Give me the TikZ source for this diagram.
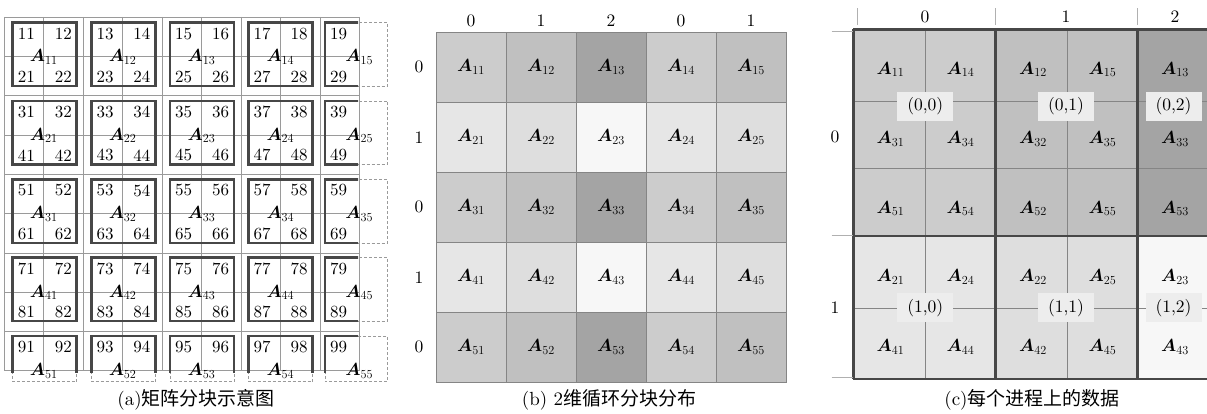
\RequirePackage{fix-cm}
\documentclass[tikz,border=0pt]{standalone}
\usepackage{amsmath}
\usepackage{bm}
\usepackage{fontspec}
\setmainfont{lmroman10-regular}[Extension=.otf, BoldFont=lmroman10-bold, ItalicFont=lmroman10-italic]
\newfontfamily\cjk{Noto Sans CJK SC}
\definecolor{c00}{HTML}{CCCCCC}
\definecolor{c01}{HTML}{C0C0C0}
\definecolor{c02}{HTML}{A4A4A4}
\definecolor{c10}{HTML}{E6E6E6}
\definecolor{c11}{HTML}{DEDEDE}
\definecolor{c12}{HTML}{F7F7F7}
\definecolor{thickgray}{HTML}{474747}
\definecolor{finegray}{HTML}{9A9A9A}
\definecolor{cellgray}{HTML}{858585}
\definecolor{labfill}{HTML}{EDEDED}
\definecolor{tickgray}{HTML}{B0B0B0}
\tikzset{
  fineline/.style={draw=finegray, line width=0.6pt},
  blockbox/.style={draw=thickgray, line width=2.5pt},
  dashbox/.style={draw=finegray, line width=0.6pt, dash pattern=on 3pt off 2pt},
  numtxt/.style={inner sep=3.5pt, font=\fontsize{17}{20}\selectfont},
  mattxt/.style={inner sep=1pt, font=\fontsize{17.5}{20}\selectfont},
  bcell/.style={rectangle, draw=cellgray, line width=0.6pt, minimum size=70pt, inner sep=0pt, font=\fontsize{17.5}{20}\selectfont},
  cline/.style={draw=cellgray, line width=0.6pt},
  proclab/.style={fill=labfill, minimum width=56pt, minimum height=29pt, inner sep=0pt, font=\fontsize{17.5}{20}\selectfont},
  axlab/.style={inner sep=0pt, font=\fontsize{17.5}{20}\selectfont},
  tickline/.style={draw=tickgray, line width=0.6pt},
  captxt/.style={inner sep=0pt, font=\fontsize{19}{22}\selectfont}
}
\begin{document}
\begin{tikzpicture}[x=1pt,y=-1pt]
\useasboundingbox (0,0) rectangle (1207,414);
\fill[white] (0,0) rectangle (1207,414);

% ================= panel (a) =================
\foreach \i in {0,...,9}{
  \draw[fineline] ({4.3+39.44*\i},17) -- ({4.3+39.44*\i},370.7);
  \draw[fineline] (4.3,{17+39.3*\i}) -- (359.3,{17+39.3*\i});
}
% dashed outer parts of the boundary blocks
\foreach \r in {1,...,5}{
  \foreach \c in {1,...,5}{
    \pgfmathsetmacro\L{ifthenelse(\c==5,325,12.7+78.6*(\c-1))}
    \pgfmathsetmacro\R{ifthenelse(\c==5,387.3,\L+64)}
    \pgfmathsetmacro\T{22.7+78.3*(\r-1)}
    \pgfmathsetmacro\B{ifthenelse(\r==5,381.7,\T+63.5)}
    \pgfmathtruncatemacro\edge{(\c==5)||(\r==5)}
    \ifnum\edge=1
      \draw[dashbox] (\L,\T) rectangle (\R,\B);
    \fi
  }
}
% thick block frames, clipped to the matrix
\begin{scope}
  \clip (0,0) rectangle (358,372);
  \foreach \r in {1,...,5}{
    \foreach \c in {1,...,5}{
      \pgfmathsetmacro\L{ifthenelse(\c==5,325,12.7+78.6*(\c-1))}
      \pgfmathsetmacro\R{ifthenelse(\c==5,387.3,\L+64)}
      \pgfmathsetmacro\T{22.7+78.3*(\r-1)}
      \pgfmathsetmacro\B{ifthenelse(\r==5,381.7,\T+63.5)}
      \draw[blockbox] (\L,\T) rectangle (\R,\B);
    }
  }
\end{scope}
% numbers and block names
\foreach \r in {1,...,5}{
  \foreach \c in {1,...,5}{
    \pgfmathsetmacro\L{ifthenelse(\c==5,325,12.7+78.6*(\c-1))}
    \pgfmathsetmacro\R{ifthenelse(\c==5,387.3,\L+64)}
    \pgfmathsetmacro\T{22.7+78.3*(\r-1)}
    \pgfmathsetmacro\B{ifthenelse(\r==5,381.7,\T+63.5)}
    \pgfmathtruncatemacro\tl{10*(2*\r-1)+2*\c-1}
    \pgfmathtruncatemacro\tr{\tl+1}
    \pgfmathtruncatemacro\bl{\tl+10}
    \pgfmathtruncatemacro\br{\tl+11}
    \node[numtxt, anchor=north west] (n\tl) at ({\L+1.5},{\T+1.5}) {\tl};
    \ifnum\c<5
      \node[numtxt, anchor=north east] (n\tr) at ({\R-1.2},{\T+1.5}) {\tr};
    \fi
    \ifnum\r<5
      \node[numtxt, anchor=south west] (n\bl) at ({\L+1.5},{\B+0.5}) {\bl};
      \ifnum\c<5
        \node[numtxt, anchor=south east] (n\br) at ({\R-1.2},{\B+0.5}) {\br};
      \fi
    \fi
    \node[mattxt] (a\r\c) at ({4.3+39.44*(2*\c-1)},{17.5+39.3*(2*\r-1)}) {$\bm{A}_{\r\c}$};
  }
}
\node[captxt] (capa) at (196,400) {(a)\cjk 矩阵分块示意图};

% ================= panel (b) =================
\foreach \i in {1,...,5}{
  \foreach \j in {1,...,5}{
    \pgfmathtruncatemacro\p{mod(\i-1,2)}
    \pgfmathtruncatemacro\q{mod(\j-1,3)}
    \node[bcell, fill=c\p\q] (b\i\j) at ({436+70*(\j-0.5)},{32.3+70*(\i-0.5)}) {$\bm{A}_{\i\j}$};
  }
}
\foreach \i in {1,...,5}{
  \pgfmathtruncatemacro\p{mod(\i-1,2)}
  \node[axlab] (br\i) at (419,{32.3+70*(\i-0.5)}) {\p};
}
\foreach \j in {1,...,5}{
  \pgfmathtruncatemacro\q{mod(\j-1,3)}
  \node[axlab] (bc\j) at ({436+70*(\j-0.5)},21) {\q};
}
\node[captxt] (capb) at (609,400) {(b) 2\cjk 维循环分块分布};

% ================= panel (c) =================
\fill[c00] (853.3,29.3) rectangle (995.7,236);
\fill[c01] (995.7,29.3) rectangle (1137.7,236);
\fill[c02] (1137.7,29.3) rectangle (1208,236);
\fill[c10] (853.3,236) rectangle (995.7,379);
\fill[c11] (995.7,236) rectangle (1137.7,379);
\fill[c12] (1137.7,236) rectangle (1208,379);
\draw[cline] (925.7,29.3) -- (925.7,379);
\draw[cline] (1067.3,29.3) -- (1067.3,379);
\draw[cline] (853.3,101) -- (1208,101);
\draw[cline] (853.3,168.3) -- (1208,168.3);
\draw[cline] (853.3,308.3) -- (1208,308.3);
\draw[blockbox] (853.3,29.3) -- (1208,29.3);
\draw[blockbox] (853.3,236) -- (1208,236);
\draw[blockbox] (853.3,379) -- (1208,379);
\draw[blockbox] (853.3,29.3) -- (853.3,379);
\draw[blockbox] (995.7,29.3) -- (995.7,379);
\draw[blockbox] (1137.7,29.3) -- (1137.7,379);
% block names
\foreach \rr/\yy in {1/69.5, 3/139, 5/208.5, 2/277, 4/347}{
  \foreach \cc/\xx in {1/890.5, 4/960.5, 2/1033, 5/1102.5, 3/1175}{
    \node[mattxt] (cA\rr\cc) at (\xx,\yy) {$\bm{A}_{\rr\cc}$};
  }
}
% process labels
\node[proclab] (p00) at (925.3,106.2) {(0,0)};
\node[proclab] (p01) at (1066,106.2) {(0,1)};
\node[proclab] (p02) at (1173.5,106.2) {(0,2)};
\node[proclab] (p10) at (925.3,307.8) {(1,0)};
\node[proclab] (p11) at (1066,307.8) {(1,1)};
\node[proclab] (p12) at (1173.5,307.8) {(1,2)};
% axes
\draw[tickline] (831.7,31) -- (853.3,31);
\draw[tickline] (831.7,235.5) -- (853.3,235.5);
\draw[tickline] (831.7,377.5) -- (853.3,377.5);
\draw[tickline] (857.3,8.3) -- (857.3,25);
\draw[tickline] (995.7,8.3) -- (995.7,25);
\draw[tickline] (1137.7,8.3) -- (1137.7,25);
\node[axlab] (cr0) at (835,137) {0};
\node[axlab] (cr1) at (835,308) {1};
\node[axlab] (cc0) at (925,17) {0};
\node[axlab] (cc1) at (1066,17) {1};
\node[axlab] (cc2) at (1175,17) {2};
\node[captxt] (capc) at (1032,400) {(c)\cjk 每个进程上的数据};
\end{tikzpicture}
\end{document}
